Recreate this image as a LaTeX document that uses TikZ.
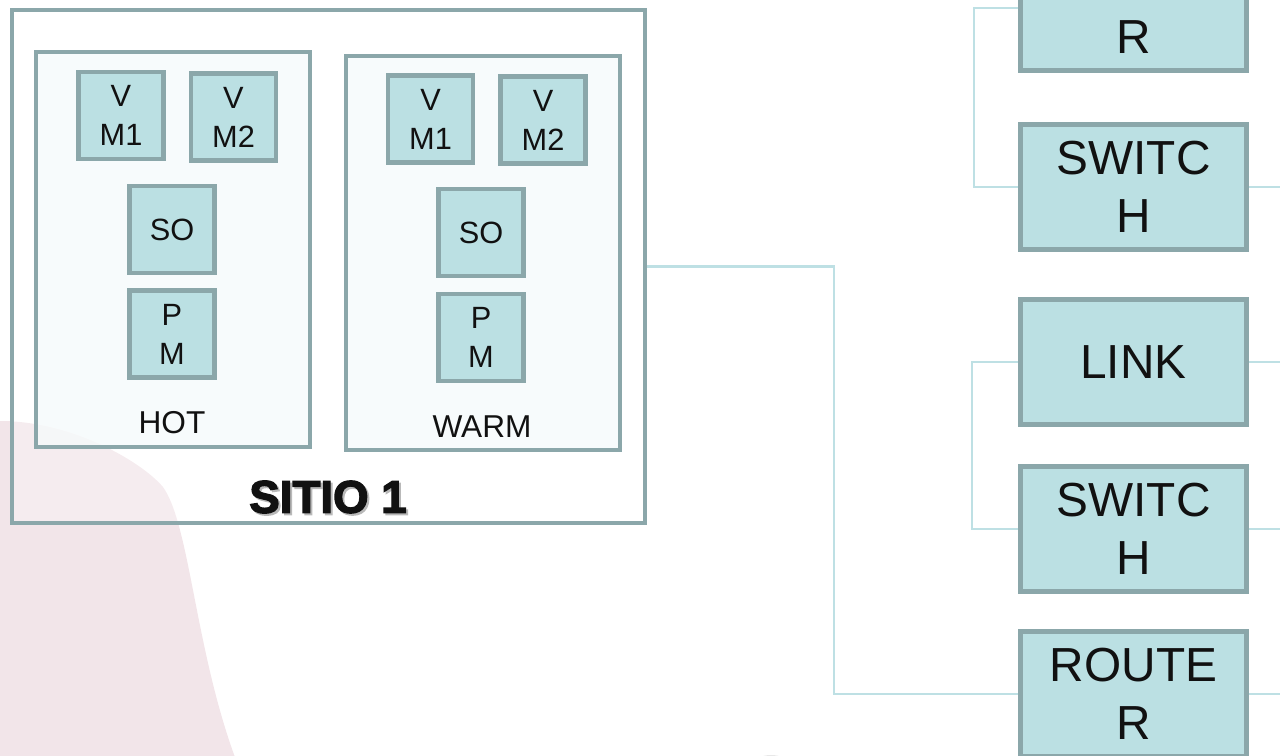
\documentclass[tikz,border=0pt]{standalone}
\usepackage{fontspec}
\setmainfont{Liberation Sans}
\newfontfamily\sitefont{Liberation Sans Bold}[FakeBold=3]
\usepackage{xcolor}
\definecolor{boxfill}{HTML}{BBE0E3}
\definecolor{boxline}{HTML}{8BA7AA}
\definecolor{wirecol}{HTML}{BEE0E4}
\definecolor{tierfill}{HTML}{F6FAFB}
\definecolor{blush}{HTML}{F2E5E9}
\definecolor{ink}{HTML}{111111}

\begin{document}
\begin{tikzpicture}[
  x=0.02cm, y=-0.02cm, text=ink,
  device/.style={draw=boxline, line width=2.8pt, fill=boxfill, inner sep=0pt,
                 minimum width=4.52cm, minimum height=2.5cm, align=center,
                 font=\fontsize{27.2}{33}\selectfont},
  vm/.style={draw=boxline, line width=2.3pt, fill=boxfill, inner sep=0pt,
             minimum width=1.7cm, minimum height=1.74cm, align=center,
             font=\fontsize{17.5}{22.2}\selectfont},
  tier/.style={draw=boxline, line width=2.3pt, fill=tierfill, fill opacity=.8,
               minimum width=5.48cm, minimum height=7.9cm},
  site/.style={draw=boxline, line width=2.3pt, fill=white, fill opacity=.3,
               minimum width=12.66cm, minimum height=10.26cm},
  tiertitle/.style={font=\fontsize{18}{20}\selectfont},
  wire/.style={draw=wirecol, line width=1.2pt}
]
  \path[use as bounding box, clip] (0,0) rectangle (1280,756);

  % Background shapes.
  \fill[blush] (0,421) .. controls (70,421) and (140,460) .. (163,487)
    .. controls (190,525) and (195,650) .. (236,760) -- (0,760) -- cycle;
  \fill[gray!30, opacity=.6] (771,764) ellipse [x radius=17, y radius=9];

  % Site with its two tiers.
  \node[site] (site) at (328.5,266.5) {};
  \node[tier] (hot) at (173,249.5) {};
  \node[tier] (warm) at (483,253) {};

  \node[vm] (hot-vm1) at (121,115.5) {V\\M1};
  \node[vm] (hot-vm2) at (233.5,117) {V\\M2};
  \node[vm] (hot-so) at (172,229.5) {SO};
  \node[vm] (hot-pm) at (172,334) {P\\M};
  \node[tiertitle] (hot-title) at (172,423) {HOT};

  \node[vm] (warm-vm1) at (430.5,119) {V\\M1};
  \node[vm] (warm-vm2) at (543,120) {V\\M2};
  \node[vm] (warm-so) at (481,232.5) {SO};
  \node[vm] (warm-pm) at (481,337.5) {P\\M};
  \node[tiertitle] (warm-title) at (482,426.5) {WARM};

  \node[text=gray!55, font=\sitefont\fontsize{26}{28}\selectfont]
    (site-shadow) at (330,499) {SITIO 1};
  \node[font=\sitefont\fontsize{26}{28}\selectfont]
    (site-title) at (328,497) {SITIO 1};

  % Network devices.
  \node[device] (router-a) at (1133.5,8) {ROUTE\\R};
  \node[device] (switch-a) at (1133.5,187) {SWITC\\H};
  \node[device] (link) at (1133.5,362) {LINK};
  \node[device] (switch-b) at (1133.5,529) {SWITC\\H};
  \node[device] (router-b) at (1133.5,694) {ROUTE\\R};

  \coordinate (edge-a) at (1285,187);
  \coordinate (edge-b) at (1285,362);
  \coordinate (edge-c) at (1285,529);
  \coordinate (edge-d) at (1285,694);

  % Cabling.
  \draw[wire] (site.east) -- (834,266.5) |- (router-b.west);
  \draw[wire] (router-a.west) -- (974,8) |- (switch-a.west);
  \draw[wire] (link.west) -- (972,362) |- (switch-b.west);
  \draw[wire] (switch-a.east) -- (edge-a);
  \draw[wire] (link.east) -- (edge-b);
  \draw[wire] (switch-b.east) -- (edge-c);
  \draw[wire] (router-b.east) -- (edge-d);
\end{tikzpicture}
\end{document}
